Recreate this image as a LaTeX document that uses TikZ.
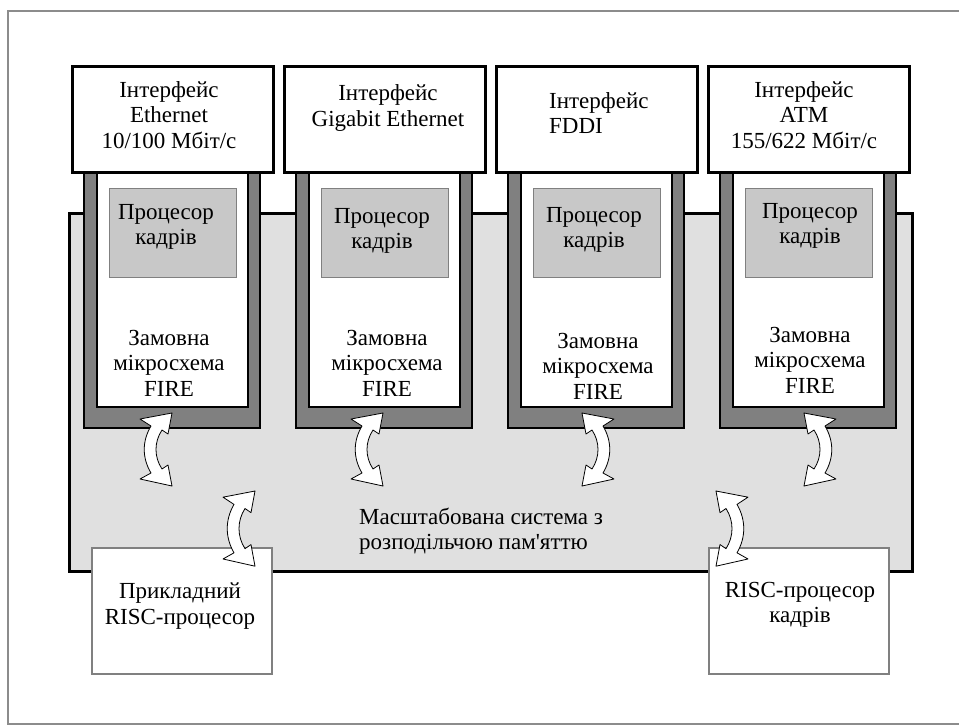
\documentclass[tikz,border=0pt]{standalone}
\usepackage{fontspec}
\setmainfont{Liberation Serif}[Ligatures=TeXOff]
\definecolor{framegray}{HTML}{8C8C8C}
\definecolor{bandgray}{HTML}{808080}
\definecolor{sysgray}{HTML}{E0E0E0}
\definecolor{cpugray}{HTML}{C8C8C8}
\begin{document}
\begin{tikzpicture}[x=1pt,y=-1pt,
  box/.style={rectangle, inner sep=0pt, outer sep=0pt},
  ifbox/.style={box, draw=black, line width=3pt, fill=white, minimum width=201pt, minimum height=106pt},
  band/.style={box, draw=black, line width=2.5pt, fill=bandgray, minimum width=176pt, minimum height=256pt},
  chip/.style={box, draw=black, line width=2.5pt, fill=white, minimum width=151pt, minimum height=235pt},
  cpu/.style={box, draw=bandgray, line width=1pt, fill=cpugray, minimum width=127pt, minimum height=89pt},
  risc/.style={box, draw=bandgray, line width=1.2pt, fill=white, minimum width=180pt, minimum height=126pt},
  txt/.style={inner sep=0pt, font=\fontsize{23}{25.5}\selectfont, align=center},
  twoway/.pic={
    \draw[black, fill=white, line width=0.8pt, line join=round]
      (0,0) -- (-32,6) -- (-21,13) .. controls (-30,28) and (-30,45) .. (-21,60)
      -- (-32,66) -- (0,73) -- (-4,52) -- (-10,56)
      .. controls (-18,44) and (-18,29) .. (-10,17) -- (-4,21) -- cycle;
  }]
\useasboundingbox (0,0) rectangle (959,726);
% outer frame
\draw[framegray, line width=1.5pt] (959,11) -- (8,11) -- (8,724) -- (959,724);
% shared memory system
\node[box, draw=black, line width=3pt, fill=sysgray, minimum width=843pt, minimum height=358pt, anchor=north west] (sys) at (69,213) {};
% FIRE modules
\foreach \i/\bx in {1/72,2/284,3/496,4/708} {
  \node[band, anchor=north west] (mod\i) at (\bx+12,172) {};
  \node[chip, anchor=north west] (fire\i) at (\bx+25,172) {};
  \node[cpu, anchor=north west] (cpu\i) at (\bx+37,188) {};
  \node[ifbox, anchor=north west] (if\i) at (\bx,66) {};
}
% interface labels
\node[txt] (t1) at (169,115) {Інтерфейс\\Ethernet\\10/100 Мбіт/с};
\node[txt] (t2) at (388,108) {Інтерфейс\\Gigabit Ethernet};
\node[txt, align=left, anchor=west] (t3) at (549,113) {Інтерфейс\\FDDI};
\node[txt] (t4) at (804,115) {Інтерфейс\\ATM\\155/622 Мбіт/с};
% frame processors
\node[txt] (c1) at (166,227) {Процесор\\кадрів};
\node[txt] (c2) at (382,231) {Процесор\\кадрів};
\node[txt] (c3) at (594,230) {Процесор\\кадрів};
\node[txt] (c4) at (810,226) {Процесор\\кадрів};
% ASIC labels
\node[txt] (f1) at (169,363) {Замовна\\мікросхема\\FIRE};
\node[txt] (f2) at (387,363) {Замовна\\мікросхема\\FIRE};
\node[txt] (f3) at (598,366) {Замовна\\мікросхема\\FIRE};
\node[txt] (f4) at (810,360) {Замовна\\мікросхема\\FIRE};
% system label
\node[txt, align=left, anchor=west] (st) at (359,531) {Масштабована система з\\розподільчою пам'яттю};
% RISC processors
\node[risc, anchor=north west] (r1) at (92,548) {};
\node[risc, anchor=north west] (r2) at (709,548) {};
\node[txt] (rt1) at (180,606) {Прикладний\\RISC-процесор};
\node[txt] (rt2) at (800,605) {RISC-процесор\\кадрів};
% bidirectional links
\pic at (172,413) {twoway};
\pic at (383,413) {twoway};
\pic[xscale=-1] at (582,413) {twoway};
\pic[xscale=-1] at (804,413) {twoway};
\pic[yscale=1.03] at (255,491) {twoway};
\pic[xscale=-1, yscale=1.03] at (716,491) {twoway};
\end{tikzpicture}
\end{document}
